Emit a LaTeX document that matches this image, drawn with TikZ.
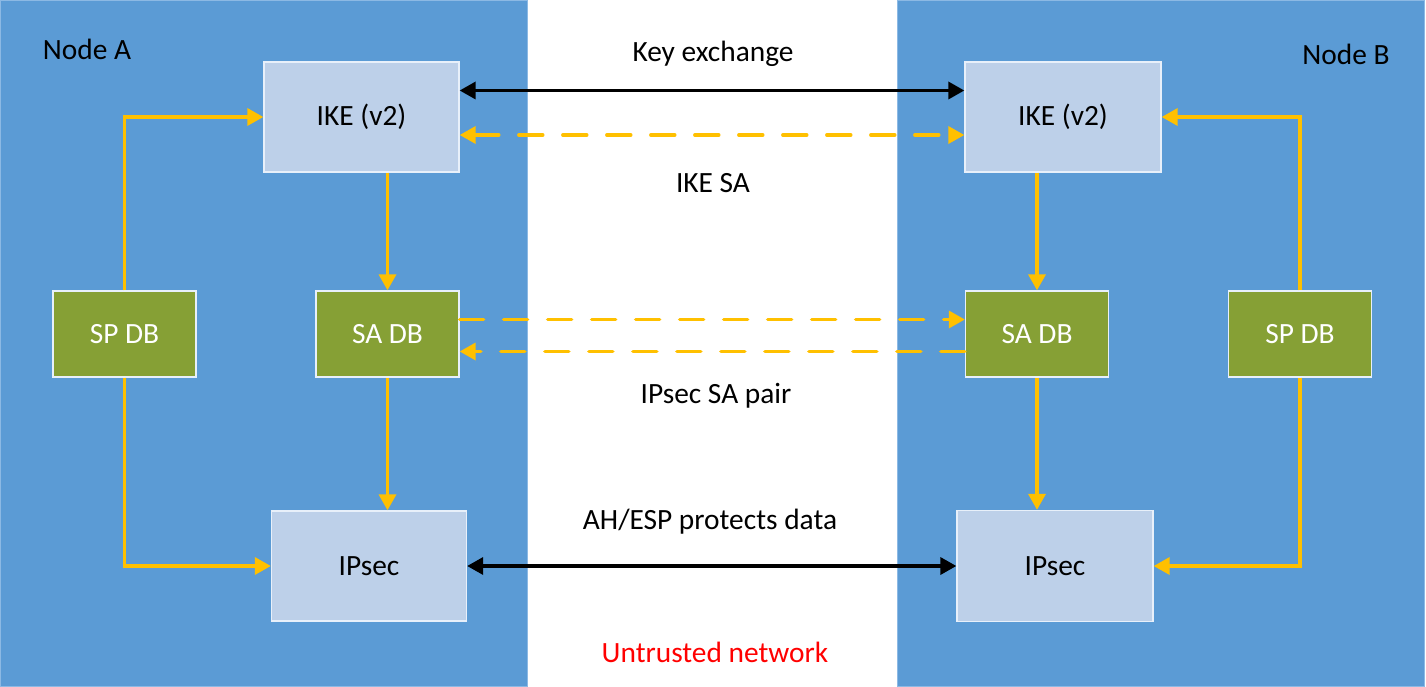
\documentclass[tikz,border=0pt]{standalone}
\usepackage{fontspec}
\setmainfont{Carlito}
\usetikzlibrary{arrows.meta,calc}
\definecolor{panelblue}{RGB}{91,155,213}
\definecolor{paneledge}{RGB}{140,185,228}
\definecolor{lightbox}{RGB}{189,208,233}
\definecolor{greenbox}{RGB}{134,160,53}
\definecolor{boxedge}{RGB}{232,240,250}
\definecolor{amber}{RGB}{255,192,0}
\definecolor{redtext}{RGB}{255,0,0}
\begin{document}
\begin{tikzpicture}[x=1bp,y=-1bp,
  every node/.style={font=\fontsize{29.5}{35}\selectfont, inner sep=0pt},
  panel/.style={fill=panelblue, draw=paneledge, line width=1bp},
  bigbox/.style={rectangle, fill=lightbox, draw=boxedge, line width=1.3bp, text=black},
  dbbox/.style={rectangle, fill=greenbox, draw=boxedge, line width=1.3bp, text=white, minimum width=143bp, minimum height=86bp},
  flow/.style={draw=amber, line width=3.4bp, -{Triangle[length=16bp,width=17bp]}},
  flowdash/.style={flow, dash pattern=on 24bp off 20bp, line cap=round},
  link/.style={draw=black, line width=3.4bp, {Triangle[length=16bp,width=17bp]}-{Triangle[length=16bp,width=17bp]}},
  lbl/.style={text=black}
]
\useasboundingbox (0,0) rectangle (1426,687);
\fill[white] (0,0) rectangle (1426,687);
% panels
\path[panel] (0.5,1) rectangle (527,686);
\path[panel] (897.5,1) rectangle (1424,686);

% Node A
\node[lbl] (labA) at (87,49) {Node A};
\node[bigbox, minimum width=195bp, minimum height=110bp] (ikeA) at (361.5,117) {IKE (v2)};
\node[dbbox] (spA) at (124.5,334) {SP DB};
\node[dbbox] (saA) at (387.5,334) {SA DB};
\node[bigbox, minimum width=195bp, minimum height=110bp] (ipA) at (369,566) {IPsec};

% Node B
\node[lbl] (labB) at (1346,54) {Node B};
\node[bigbox, minimum width=196bp, minimum height=110bp] (ikeB) at (1063,117) {IKE (v2)};
\node[dbbox] (saB) at (1037,334) {SA DB};
\node[dbbox] (spB) at (1300,334) {SP DB};
\node[bigbox, minimum width=196bp, minimum height=111bp] (ipB) at (1055,566) {IPsec};

% middle labels
\node[lbl] (kx) at (713,54) {Key exchange};
\node[lbl] (ikesa) at (713,183) {IKE SA};
\node[lbl] (sapair) at (716,396) {IPsec SA pair};
\node[lbl] (ahesp) at (710,522) {AH/ESP protects data};
\node[text=redtext] (untr) at (715,652) {Untrusted network};

% helper levels
\coordinate (yKX) at (0,90.5);
\coordinate (yIKESA) at (0,135);
\coordinate (ySAup) at (0,319.5);
\coordinate (ySAdn) at (0,351.5);

% internal flows, node A
\draw[flow] (spA.north) |- (ikeA.west);
\draw[flow] (ikeA.south -| saA.north) -- (saA.north);
\draw[flow] (saA.south) -- (saA.south |- ipA.north);
\draw[flow] (spA.south) |- (ipA.west);

% internal flows, node B
\draw[flow] (spB.north) |- (ikeB.east);
\draw[flow] (saB.north |- ikeB.south) -- (saB.north);
\draw[flow] (saB.south) -- (saB.south |- ipB.north);
\draw[flow] (spB.south) |- (ipB.east);

% links across the network
\draw[link] (ikeA.east |- yKX) -- (ikeB.west |- yKX);
\draw[flowdash, {Triangle[length=16bp,width=17bp]}-{Triangle[length=16bp,width=17bp]}] (ikeA.east |- yIKESA) -- (ikeB.west |- yIKESA);
\draw[flowdash] (saA.east |- ySAup) -- (saB.west |- ySAup);
\draw[flowdash] (saB.west |- ySAdn) -- (saA.east |- ySAdn);
\draw[link] (ipA.east) -- (ipB.west);
\end{tikzpicture}
\end{document}
